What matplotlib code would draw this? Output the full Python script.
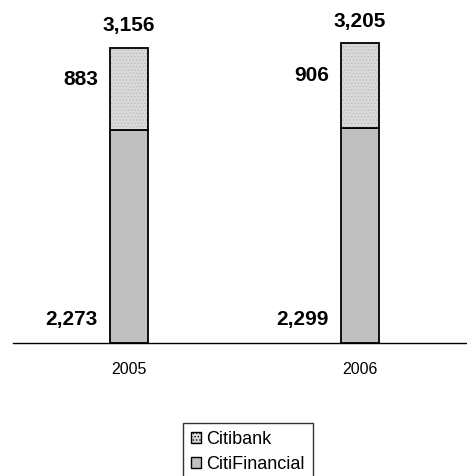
import numpy as np
import matplotlib.pyplot as plt
from matplotlib.patches import Patch

plt.rcParams['font.family'] = ['Liberation Sans', 'DejaVu Sans']
plt.rcParams['hatch.linewidth'] = 0.6

years = ['2005', '2006']
citifinancial = [2273, 2299]
citibank = [883, 906]
totals = [3156, 3205]

fig = plt.figure(figsize=(4.67, 4.76), dpi=100)
ax = fig.add_axes([13/467, 1-343/476, 1-13/467, 333/476])

x = np.arange(len(years))
w = 0.165
ax.bar(x, citifinancial, w, color='#C0C0C0', edgecolor='black', linewidth=1.3)
# dotted top segment: hatch layer then outline
ax.bar(x, citibank, w, bottom=citifinancial, color='#D9D9D9', hatch='.....',
       edgecolor='#BDBDBD', linewidth=0)
ax.bar(x, citibank, w, bottom=citifinancial, fill=False, edgecolor='black', linewidth=1.3)

for i in range(len(years)):
    xl = x[i] - w / 2
    ax.annotate(f'{totals[i]:,}', (x[i], totals[i]), xytext=(0, 16), textcoords='offset points',
                ha='center', va='center', fontsize=15, fontweight='bold')
    ax.annotate(f'{citibank[i]:,}', (xl, totals[i]), xytext=(-8.6, -23), textcoords='offset points',
                ha='right', va='center', fontsize=15, fontweight='bold')
    ax.annotate(f'{citifinancial[i]:,}', (xl, 0), xytext=(-8.6, 17), textcoords='offset points',
                ha='right', va='center', fontsize=15, fontweight='bold')

ax.set_xlim(-0.502, 1.463)
ax.set_ylim(0, 333/0.0935)
ax.set_xticks(x)
ax.set_xticklabels(years, fontsize=11.5)
ax.tick_params(axis='x', length=0, pad=14)
ax.set_yticks([])
for s in ['top', 'right', 'left']:
    ax.spines[s].set_visible(False)
ax.spines['bottom'].set_linewidth(1.0)

handles = [Patch(facecolor='#D9D9D9', edgecolor='black', hatch='.....'),
           Patch(facecolor='#C0C0C0', edgecolor='black')]
fig.legend(handles, ['Citibank', 'CitiFinancial'], loc='upper left',
           bbox_to_anchor=(183/467, 1-423/476), fontsize=13, frameon=True,
           fancybox=False, edgecolor='black', handlelength=0.55, handleheight=0.55,
           handletextpad=0.3, borderpad=0.45, labelspacing=0.45, borderaxespad=0)

fig.savefig('out.png', dpi=100)
